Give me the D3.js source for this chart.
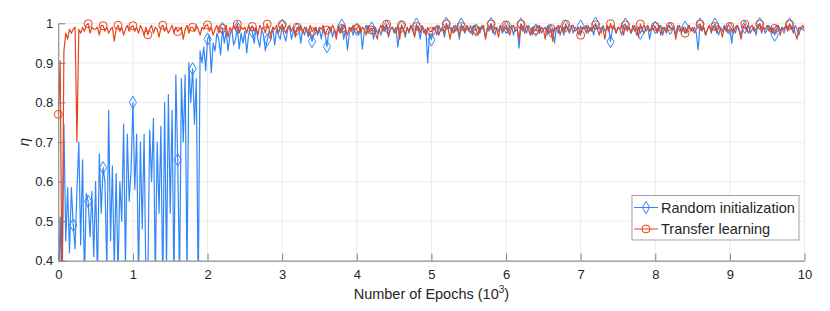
<!DOCTYPE html>
<html>
<head>
<meta charset="utf-8">
<script src="https://cdn.jsdelivr.net/npm/d3@7"></script>
<style>
  html, body { margin: 0; padding: 0; background: #fff; }
  svg { display: block; font-family: "Liberation Sans", Arial, sans-serif; }
</style>
</head>
<body>
<div id="chart"></div>
<script>
// epochs in thousands, one value every 25 epochs (0 .. 10)
const epochStep = 0.025;

// efficiency eta, random initialization
const randomInit = [
  .30, .51, .30, .745, .45, .585, .42, .585, .49, .43, .58, .70, .44, .655, .35, .57, .55, .46, .575, .41,
  .60, .35, .67, .52, .635, .60, .38, .78, .45, .64, .38, .62, .36, .60, .50, .745, .38, .72, .55, .63,
  .80, .58, .72, .35, .70, .48, .72, .33, .36, .73, .60, .76, .35, .70, .52, .74, .32, .80, .38, .82,
  .52, .78, .33, .87, .655, .35, .86, .70, .87, .36, .90, .80, .885, .745, .86, .30, .93, .90, .94, .88,
  .96, .97, .875, .95, .93, .975, .96, .92, .987, .95, .98, .93, .97, .985, .945, .96, .989, .935, .975, .95,
  .98, .925, .97, .985, .979, .95, .99, .96, .94, .985, .97, .93, .958, .98, .975, .99, .945, .985, .97, .96,
  .995, .97, .955, .985, .99, .96, .98, .975, .985, .99, .95, .985, .97, .99, .965, .98, .954, .975, .99, .97,
  .985, .96, .99, .975, .941, .98, .99, .965, .985, .97, .995, .98, .995, .96, .985, .933, .975, .99, .97, .985,
  .985, .97, .99, .935, .98, .995, .975, .985, .988, .96, .99, .975, .985, .97, .995, .98, .992, .965, .985, .99,
  .975, .99, .94, .98, .992, .985, .965, .99, .975, .995, .98, .97, .998, .985, .96, .99, .975, .985, .90, .975,
  .958, .985, .99, .97, .995, .98, .985, .965, 1.0, .985, .99, .975, .995, .98, .99, .96, .998, .985, .975, .99,
  .98, .995, .97, .985, .983, .99, .975, .995, .985, .965, .99, .98, .999, .985, .97, .99, .98, .995, .975, .985,
  .99, .975, .985, .995, .97, .99, .99, .938, .998, .98, .99, .975, .995, .985, .97, .99, .983, .98, .995, .975,
  .985, .99, .97, .995, .98, .985, .95, .99, .975, .995, .985, .97, .993, .99, .98, .995, .975, .99, .985, .97,
  .993, .985, .99, .975, .995, .98, .99, .97, 1.0, .985, .99, .975, .995, .98, .985, .99, .954, .985, .995, .975,
  .99, .985, .97, .995, .998, .98, .99, .975, .985, .995, .97, .99, .975, .985, .995, .98, .99, .96, .985, .995,
  .99, .975, .985, .995, .97, .99, .98, .995, .987, .985, .99, .97, .995, .98, .985, .99, .99, .975, .995, .985,
  .98, .99, .975, .933, .998, .985, .99, .97, .985, .995, .975, .99, .998, .985, .97, .99, .98, .995, .985, .975,
  .987, .95, .99, .975, .995, .985, .97, .99, .99, .98, .995, .975, .985, .99, .97, .995, .999, .985, .99, .975,
  .985, .995, .975, .99, .97, .985, .995, .98, .99, .975, .995, .985, .998, .99, .975, .995, .985, .97, .99, .985,
  .98
];

// efficiency eta, transfer learning
const transfer = [
  .77, .905, .30, .93, .975, .96, .985, .975, .985, .99, .70, .985, .975, .99, .98, .995, .999, .975, .99, .985,
  .985, .99, .97, .995, .994, .98, .99, .975, .985, .99, .955, .985, .995, .98, .99, .97, .985, .995, .98, .99,
  .994, .98, .99, .975, .995, .985, .97, .99, .971, .985, .995, .975, .99, .985, .965, .99, .995, .98, .99, .975,
  .985, .995, .975, .99, .979, .985, .99, .96, .985, .995, .975, .99, .99, .98, .995, .985, .97, .99, .985, .995,
  .996, .98, .99, .97, .985, .995, .975, .99, .987, .985, .995, .965, .99, .98, .995, .985, .998, .975, .99, .985,
  .99, .975, .995, .985, .992, .98, .99, .97, .995, .985, .99, .975, .998, .985, .96, .99, .985, .995, .975, .99,
  .997, .985, .975, .99, .995, .98, .99, .965, .99, .985, .995, .975, .99, .985, .97, .995, .979, .985, .99, .975,
  .99, .985, .995, .97, .983, .99, .98, .995, .985, .96, .99, .975, .987, .995, .985, .97, .99, .98, .995, .985,
  .987, .995, .975, .99, .985, .97, .995, .98, .983, .99, .975, .96, .985, .995, .98, .99, .998, .97, .985, .99,
  .985, .975, .995, .96, .996, .985, .97, .99, .98, .995, .985, .965, .992, .99, .975, .995, .985, .97, .99, .98,
  .979, .99, .985, .995, .97, .985, .99, .975, .998, .985, .96, .99, .975, .995, .985, .97, .992, .99, .98, .995,
  .985, .975, .99, .995, .983, .97, .99, .985, .995, .96, .985, .99, .998, .975, .99, .985, .965, .995, .98, .99,
  .996, .985, .97, .99, .995, .98, .985, .96, .998, .99, .975, .995, .985, .97, .99, .98, .983, .995, .975, .99,
  .985, .96, .99, .975, .987, .955, .99, .985, .995, .97, .99, .98, .998, .985, .975, .99, .995, .98, .985, .99,
  .970, .99, .985, .995, .975, .99, .98, .995, .996, .985, .97, .99, .985, .96, .995, .98, .999, .985, .99, .975,
  .99, .985, .995, .97, .996, .985, .99, .975, .995, .98, .99, .965, .998, .985, .975, .99, .995, .98, .99, .985,
  .992, .98, .995, .97, .99, .985, .975, .995, .992, .985, .99, .96, .985, .995, .975, .99, .975, .985, .995, .98,
  .99, .975, .985, .995, .998, .98, .99, .97, .985, .995, .98, .99, .992, .975, .995, .985, .965, .99, .98, .995,
  .992, .985, .975, .99, .995, .98, .96, .99, .998, .985, .975, .99, .995, .98, .985, .99, .998, .975, .99, .985,
  .995, .98, .99, .975, .987, .995, .985, .97, .99, .985, .995, .98, .998, .985, .99, .975, .96, .99, .985, .995,
  .985
];

// a marker every 8th sample (every 200 epochs)
const blueMarkerIdx = d3.range(0, 400, 8);
const redMarkerIdx = d3.range(0, 400, 8).filter(i => i !== 8);

const xTicks = [0, 1, 2, 3, 4, 5, 6, 7, 8, 9, 10];
const yTicks = [0.4, 0.5, 0.6, 0.7, 0.8, 0.9, 1];
const yTickLabels = ["0.4", "0.5", "0.6", "0.7", "0.8", "0.9", "1"];

const seriesNames = ["Random initialization", "Transfer learning"];
const colors = ["#3287f7", "#e6441c"];

const width = 830, height = 311;
const plot = { left: 58.3, right: 804.5, top: 23.3, bottom: 260.7 };

const svg = d3.select("#chart").append("svg")
    .attr("width", width)
    .attr("height", height);

const x = d3.scaleLinear().domain([0, 10]).range([plot.left, plot.right]);
const y = d3.scaleLinear().domain([0.4, 1]).range([plot.bottom, plot.top]);

// grid
const grid = svg.append("g").attr("class", "grid");
grid.selectAll("line.v")
    .data(xTicks)
    .enter().append("line")
    .attr("x1", d => x(d)).attr("x2", d => x(d))
    .attr("y1", plot.top).attr("y2", plot.bottom)
    .attr("stroke", "#ebebeb");
grid.selectAll("line.h")
    .data(yTicks)
    .enter().append("line")
    .attr("x1", plot.left).attr("x2", plot.right)
    .attr("y1", d => y(d)).attr("y2", d => y(d))
    .attr("stroke", "#ebebeb");

svg.append("clipPath").attr("id", "clip")
    .append("rect")
    .attr("x", plot.left).attr("y", plot.top - 1)
    .attr("width", plot.right - plot.left)
    .attr("height", plot.bottom - plot.top + 1);

const line = d3.line()
    .x((d, i) => x(i * epochStep))
    .y(d => y(d));

function drawSeries(values, color, markerIdx, symbolType) {
    svg.append("path")
        .datum(values)
        .attr("clip-path", "url(#clip)")
        .attr("fill", "none")
        .attr("stroke", color)
        .attr("stroke-width", 1.2)
        .attr("stroke-linejoin", "round")
        .attr("d", line);

    const sym = d3.symbol().type(symbolType).size(symbolType === d3.symbolDiamond ? 44 : 50);
    svg.append("g")
        .selectAll("path")
        .data(markerIdx.filter(i => values[i] >= 0.4))
        .enter().append("path")
        .attr("transform", i => `translate(${x(i * epochStep)},${y(values[i])})`)
        .attr("d", sym)
        .attr("fill", "none")
        .attr("stroke", color)
        .attr("stroke-width", 1);
}

drawSeries(randomInit, colors[0], blueMarkerIdx, d3.symbolDiamond);
drawSeries(transfer, colors[1], redMarkerIdx, d3.symbolCircle);

// axes (ticks pointing inward, like matlab)
const xAxis = svg.append("g")
    .attr("transform", `translate(0,${plot.bottom})`)
    .call(d3.axisBottom(x).tickValues(xTicks).tickSizeInner(-7).tickSizeOuter(0).tickPadding(9));
const yAxis = svg.append("g")
    .attr("transform", `translate(${plot.left},0)`)
    .call(d3.axisLeft(y).tickValues(yTicks).tickFormat((d, i) => yTickLabels[i])
        .tickSizeInner(-7).tickSizeOuter(0).tickPadding(5));

[xAxis, yAxis].forEach(ax => {
    ax.select(".domain").attr("stroke", "#808080");
    ax.selectAll(".tick line").attr("stroke", "#808080");
    ax.selectAll(".tick text")
        .attr("fill", "#262626")
        .style("font-size", "13px")
        .style("font-family", "'Liberation Sans', Arial, sans-serif");
});

// axis labels
const xLabel = svg.append("text")
    .attr("x", (plot.left + plot.right) / 2)
    .attr("y", 299)
    .attr("text-anchor", "middle")
    .attr("fill", "#262626")
    .style("font-size", "14.5px");
xLabel.append("tspan").text("Number of Epochs (10");
xLabel.append("tspan").attr("dy", -6).style("font-size", "10px").text("3");
xLabel.append("tspan").attr("dy", 6).text(")");

svg.append("text")
    .attr("transform", "translate(29,142) rotate(-90)")
    .attr("text-anchor", "middle")
    .attr("fill", "#262626")
    .style("font-size", "15px")
    .style("font-style", "italic")
    .text("η");

// legend
const legend = svg.append("g").attr("class", "legend");
legend.append("rect")
    .attr("x", 632).attr("y", 195.5)
    .attr("width", 167).attr("height", 44.5)
    .attr("fill", "#fff")
    .attr("stroke", "#8c8c8c")
    .attr("stroke-width", 0.8);

const legendItems = legend.selectAll(".legend-item")
    .data(seriesNames)
    .enter().append("g")
    .attr("class", "legend-item")
    .attr("transform", (d, i) => `translate(0,${207.5 + i * 21.5})`);

legendItems.append("line")
    .attr("x1", 634).attr("x2", 658)
    .attr("stroke", (d, i) => colors[i]);
legendItems.append("path")
    .attr("transform", "translate(646,0)")
    .attr("d", (d, i) => d3.symbol().type(i === 0 ? d3.symbolDiamond : d3.symbolCircle).size(i === 0 ? 44 : 50)())
    .attr("fill", "none")
    .attr("stroke", (d, i) => colors[i]);
legendItems.append("text")
    .attr("x", 661)
    .attr("y", 5)
    .attr("fill", "#262626")
    .style("font-size", "14.5px")
    .text(d => d);
</script>
</body>
</html>
